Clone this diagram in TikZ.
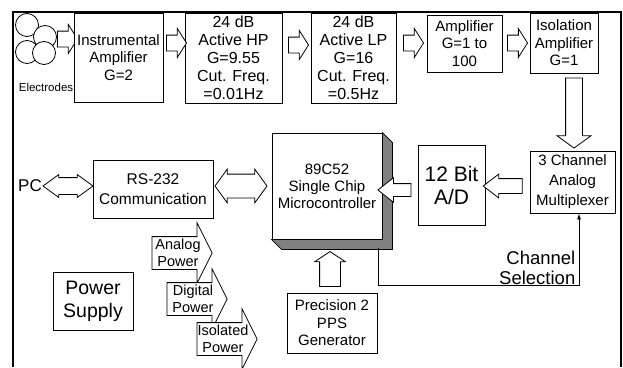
\documentclass[tikz,border=0pt]{standalone}
\usepackage{fontspec}
\setmainfont{Liberation Sans}
\usetikzlibrary{positioning,arrows.meta,calc,shapes.arrows}

\begin{document}
\begin{tikzpicture}[x=1pt, y=-1pt,
    blk/.style={draw, line width=0.9pt, fill=white, align=center, inner sep=1pt,
      font=\fontsize{15}{17.5}\selectfont},
    harr/.style={single arrow, draw, fill=white, line width=0.8pt, inner xsep=0pt, inner ysep=#1},
    varr/.style={single arrow, draw, fill=white, line width=0.8pt, inner ysep=0pt, inner xsep=#1},
    dblarr/.style={double arrow, draw, fill=white, line width=0.8pt, inner xsep=0pt, inner ysep=#1},
    toparr/.style={harr=7.5pt, minimum height=20pt,
      single arrow head extend=6.5pt, single arrow tip angle=115},
    pwrarr/.style={harr=16pt, minimum height=60pt,
      single arrow head extend=14pt, single arrow tip angle=127,
      label={[align=center, font=\fontsize{14.5}{17}\selectfont]center:#1}},
    selarr/.style={line width=0.8pt, -{Latex[length=6pt,width=4pt]}},
  ]
  \useasboundingbox (0,0) rectangle (623,367);
  % outer frame, open at the bottom
  \draw[line width=1.6pt] (13,367) -- (13,12) -- (621,12) -- (621,367);

  % signal chain, top row
  \node[toparr] (e0) at (65,39) {};
  \foreach \cx/\cy in {27/25, 45/37, 27/52, 44/53}
    \draw[line width=0.8pt, fill=white] (\cx,\cy) circle (11.5);
  \node[blk, minimum width=89pt, minimum height=89pt] (inamp) at (118.5,57.5)
    {Instrumental\\Amplifier\\G=2};
  \node[font=\fontsize{11.5}{13}\selectfont, inner sep=0pt] (elec) at (46,87) {Electrodes};
  \node[blk, minimum width=97pt, minimum height=90pt, font=\fontsize{16}{18}\selectfont]
    (hp) at (233.5,58) {24 dB\\Active HP\\G=9.55\\Cut. Freq.\\=0.01Hz};
  \node[blk, minimum width=85pt, minimum height=90pt, font=\fontsize{16}{18}\selectfont]
    (lp) at (353.5,58) {24 dB\\Active LP\\G=16\\Cut. Freq.\\=0.5Hz};
  \node[blk, minimum width=75pt, minimum height=57pt] (amp) at (464.5,43.5)
    {Amplifier\\G=1 to\\100};
  \node[blk, minimum width=68pt, minimum height=60pt] (iso) at (564,43)
    {Isolation\\Amplifier\\G=1};
  \node[toparr] (a1) at (174,43) {};
  \node[toparr] (a2) at (296,45) {};
  \node[toparr] (a3) at (411,43) {};
  \node[toparr] (a4) at (515,43) {};

  % middle row
  \node[blk, minimum width=85pt, minimum height=62pt, font=\fontsize{15}{20}\selectfont]
    (mux) at (572.5,182) {3 Channel\\Analog\\Multiplexer};
  \node[blk, minimum width=67pt, minimum height=80pt, font=\fontsize{21}{23}\selectfont]
    (adc) at (451.5,185) {12 Bit\\A/D};
  \node[blk, minimum width=110pt, minimum height=106pt, font=\fontsize{15}{17}\selectfont]
    (mcu) at (327,186) {89C52\\Single Chip\\Microcontroller};
  \fill[black!50, draw=black, line width=0.6pt] (mcu.north east) -- ([shift={(10,10)}]mcu.north east)
    -- ([shift={(10,10)}]mcu.south east) -- ([shift={(10,10)}]mcu.south west)
    -- (mcu.south west) -- (mcu.south east) -- cycle;
  \node[blk, minimum width=120pt, minimum height=58pt, font=\fontsize{15.5}{20}\selectfont]
    (rs) at (153,189) {RS-232\\Communication};
  \node[font=\fontsize{17}{19}\selectfont, inner sep=0pt] (pc) at (30,186) {PC};

  \node[varr=8pt, shape border rotate=270, minimum height=70pt,
    single arrow head extend=8.5pt, single arrow tip angle=108] (d1) at (574,110) {};
  \node[harr=7pt, shape border rotate=180, minimum height=39pt,
    single arrow head extend=4.5pt, single arrow tip angle=75] (a5) at (507.5,186) {};
  \node[harr=6pt, shape border rotate=180, minimum height=33pt,
    single arrow head extend=6pt, single arrow tip angle=77] (a6) at (398.5,190) {};
  \node[dblarr=8pt, minimum height=50pt,
    double arrow head extend=3pt, double arrow tip angle=72] (b1) at (68,186) {};
  \node[dblarr=11.5pt, minimum height=52pt,
    double arrow head extend=5pt, double arrow tip angle=108] (b2) at (241,186) {};

  % bottom row
  \node[blk, minimum width=80pt, minimum height=58pt, font=\fontsize{19.5}{23}\selectfont]
    (psu) at (93,301) {Power\\Supply};
  \node[pwrarr={Analog\\Power}] (pa) at (178,253) {};
  \node[pwrarr={Digital\\Power}] (pd) at (193,299) {};
  \node[pwrarr={Isolated\\Power}] (pi) at (223,339) {};
  \node[blk, minimum width=90pt, minimum height=60pt] (pps) at (332,323)
    {Precision 2\\PPS\\Generator};
  \node[varr=10pt, shape border rotate=90, minimum height=35pt,
    single arrow head extend=5pt, single arrow tip angle=113] (u1) at (330,272.5) {};

  % channel selection line back to the multiplexer
  \node[anchor=south east, align=right, inner sep=0.5pt, font=\fontsize{18.5}{19.5}\selectfont]
    (chsel) at (576,285) {Channel\\Selection};
  \coordinate (selstart) at (378,248);
  \coordinate (selcorner) at (579,285);
  \draw[selarr] (selstart) |- (selcorner) -- ([xshift=6.5pt]mux.south);
\end{tikzpicture}
\end{document}
